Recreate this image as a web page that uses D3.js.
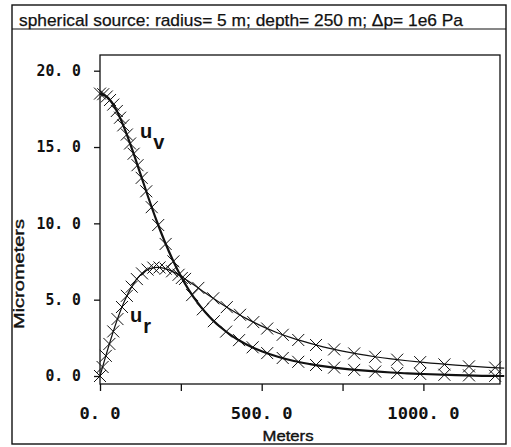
<!DOCTYPE html>
<html>
<head>
<meta charset="utf-8">
<script src="https://cdn.jsdelivr.net/npm/d3@7"></script>
<style>
  html, body { margin: 0; padding: 0; background: #fff; }
  svg { display: block; }
</style>
</head>
<body>
<svg id="chart" width="511" height="447"></svg>
<script>
// ---- data ----
const titleText = "spherical source: radius= 5 m; depth= 250 m; \u0394p= 1e6 Pa";
const xLabel = "Meters";
const yLabel = "Micrometers";

const yTicks = [0, 5, 10, 15, 20];
const yTickLabels = ["0. 0", "5. 0", "10. 0", "15. 0", "20. 0"];
const xTicks = [0, 250, 500, 750, 1000];
const xTickLabelValues = [0, 500, 1000];
const xTickLabels = ["0. 0", "500. 0", "1000. 0"];

// curve sample positions (m)
const lineX = [0,25,50,75,100,125,150,175,200,225,250,275,300,325,350,375,400,450,500,550,600,650,700,750,800,850,900,950,1000,1100,1200,1250];
const uvLine = [18.5,18.23,17.44,16.26,14.81,13.24,11.66,10.17,8.81,7.60,6.54,5.63,4.85,4.19,3.63,3.16,2.75,2.10,1.62,1.26,0.98,0.78,0.61,0.48,0.38,0.30,0.23,0.17,0.13,0.06,0.01,0.0];
const urLine = [0,1.82,3.49,4.88,5.92,6.62,7.00,7.12,7.05,6.84,6.54,6.19,5.83,5.45,5.09,4.74,4.41,3.79,3.27,2.82,2.45,2.14,1.86,1.63,1.43,1.26,1.12,1.00,0.89,0.71,0.57,0.51];

// marker positions (m) and values
const uvMarkX = [0,10,21,31,41,52,62,72,83,93,104,116,129,143,160,180,203,227,253,285,318,352,390,430,472,517,565,613,668,724,786,851,919,990,1065,1141,1222];
const uvMarkY = [18.50,18.46,18.31,18.08,17.78,17.36,16.92,16.42,15.82,15.23,14.56,13.81,12.98,12.10,11.06,9.89,8.65,7.51,6.42,5.30,4.37,3.59,2.91,2.35,1.88,1.50,1.18,0.93,0.72,0.55,0.40,0.29,0.20,0.14,0.08,0.04,0.01];
const urMarkX = [0,8,18,29,41,54,68,83,98,114,130,147,165,184,203,223,243,263,304,350,392,433,474,517,565,613,668,724,786,851,919,990,1065,1141,1222];
const urMarkY = [0,0.59,1.32,2.10,2.92,3.73,4.52,5.25,5.85,6.35,6.72,6.97,7.10,7.11,7.03,6.86,6.63,6.36,5.77,5.09,4.51,4.01,3.53,3.11,2.70,2.36,2.03,1.74,1.48,1.26,1.07,0.91,0.76,0.63,0.55];

// ---- drawing ----
const svg = d3.select("#chart");
const frame = {x0: 12, y0: 5, x1: 506, y1: 444, sepY: 29};
const plot = {left: 100, right: 500, top: 55, bottom: 384};

const x = d3.scaleLinear().domain([0, 1000]).range([100, 423.4]);
const y = d3.scaleLinear().domain([0, 20]).range([376, 70.7]);

// outer frame
svg.append("rect")
  .attr("x", frame.x0).attr("y", frame.y0)
  .attr("width", frame.x1 - frame.x0).attr("height", frame.y1 - frame.y0)
  .attr("fill", "none").attr("stroke", "#111").attr("stroke-width", 1.4);
svg.append("line")
  .attr("x1", frame.x0).attr("x2", frame.x1)
  .attr("y1", frame.sepY).attr("y2", frame.sepY)
  .attr("stroke", "#111").attr("stroke-width", 1.2);

// title
svg.append("text")
  .attr("x", 19).attr("y", 26)
  .attr("font-family", "Liberation Sans, Arial, sans-serif")
  .attr("font-size", 17)
  .attr("stroke", "#111").attr("stroke-width", 0.25)
  .attr("textLength", 444).attr("lengthAdjust", "spacingAndGlyphs")
  .attr("fill", "#111")
  .text(titleText);

// plot box
svg.append("rect")
  .attr("x", plot.left).attr("y", plot.top)
  .attr("width", plot.right - plot.left).attr("height", plot.bottom - plot.top)
  .attr("fill", "none").attr("stroke", "#111").attr("stroke-width", 1.3);

// y axis ticks
const yAxis = d3.axisLeft(y).tickValues(yTicks).tickSize(6)
  .tickFormat((d, i) => yTickLabels[i]);
const gy = svg.append("g").attr("transform", `translate(${plot.left},0)`).call(yAxis);
gy.select(".domain").remove();
gy.selectAll(".tick line").attr("stroke", "#111").attr("stroke-width", 1.3);
gy.selectAll(".tick text")
  .attr("x", -19)
  .attr("font-family", "DejaVu Sans Mono, monospace")
  .attr("font-size", 15)
  .attr("font-weight", "bold")
  .attr("fill", "#111")
  .attr("textLength", function () { return this.textContent.length * 8.9; })
  .attr("lengthAdjust", "spacingAndGlyphs");

// x axis ticks
const xAxis = d3.axisBottom(x).tickValues(xTicks).tickSize(7).tickFormat(() => "");
const gx = svg.append("g").attr("transform", `translate(0,${plot.bottom})`).call(xAxis);
gx.select(".domain").remove();
gx.selectAll(".tick line").attr("stroke", "#111").attr("stroke-width", 1.3);

// x tick labels
svg.append("g").selectAll("text")
  .data(xTickLabelValues)
  .join("text")
  .attr("x", d => x(d))
  .attr("y", 419)
  .attr("text-anchor", "middle")
  .attr("font-family", "DejaVu Sans Mono, monospace")
  .attr("font-size", 15)
  .attr("font-weight", "bold")
  .attr("fill", "#111")
  .attr("textLength", (d, i) => xTickLabels[i].length * 10.3)
  .attr("lengthAdjust", "spacingAndGlyphs")
  .text((d, i) => xTickLabels[i]);

// axis titles
svg.append("text")
  .attr("x", 288).attr("y", 441)
  .attr("text-anchor", "middle")
  .attr("font-family", "Liberation Sans, Arial, sans-serif")
  .attr("font-size", 15)
  .attr("stroke", "#111").attr("stroke-width", 0.4)
  .attr("textLength", 51).attr("lengthAdjust", "spacingAndGlyphs")
  .attr("fill", "#111")
  .text(xLabel);
svg.append("text")
  .attr("transform", "translate(24,274) rotate(-90)")
  .attr("text-anchor", "middle")
  .attr("font-family", "Liberation Sans, Arial, sans-serif")
  .attr("font-size", 15)
  .attr("stroke", "#111").attr("stroke-width", 0.4)
  .attr("textLength", 110).attr("lengthAdjust", "spacingAndGlyphs")
  .attr("fill", "#111")
  .text(yLabel);

// curves
const line = d3.line().x(d => x(d[0])).y(d => y(d[1])).curve(d3.curveMonotoneX);
svg.append("path")
  .datum(lineX.map((v, i) => [v, urLine[i]]))
  .attr("d", line).attr("fill", "none").attr("stroke", "#111").attr("stroke-width", 1.2);
svg.append("path")
  .datum(lineX.map((v, i) => [v, uvLine[i]]))
  .attr("d", line).attr("fill", "none").attr("stroke", "#111").attr("stroke-width", 2.2);

// X markers
const ms = 6;
function drawMarks(xs, ys) {
  svg.append("g").selectAll("path")
    .data(xs.map((v, i) => [v, ys[i]]))
    .join("path")
    .attr("d", d => {
      const cx = x(d[0]), cy = y(d[1]);
      return `M${cx - ms},${cy - ms}L${cx + ms},${cy + ms}M${cx - ms},${cy + ms}L${cx + ms},${cy - ms}`;
    })
    .attr("fill", "none").attr("stroke", "#111").attr("stroke-width", 1);
}
drawMarks(uvMarkX, uvMarkY);
drawMarks(urMarkX, urMarkY);

// curve labels
const lblFont = "Liberation Sans, Arial, sans-serif";
function curveLabel(xp, yp, main, sub) {
  const t = svg.append("text").attr("x", xp).attr("y", yp)
    .attr("font-family", lblFont).attr("font-size", 20).attr("font-weight", "bold")
    .attr("fill", "#111");
  t.append("tspan").text(main);
  t.append("tspan").attr("dx", 1).attr("dy", 11).text(sub);
}
curveLabel(140, 138, "u", "v");
curveLabel(130, 322, "u", "r");
</script>
</body>
</html>
